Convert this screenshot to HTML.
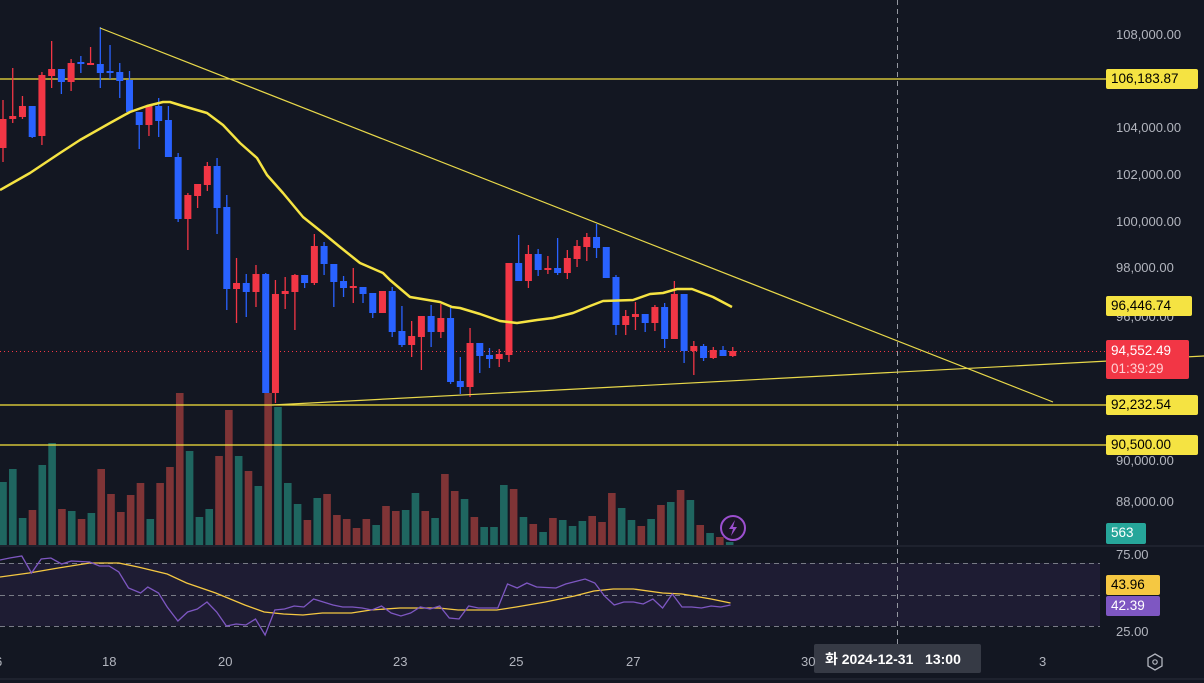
<!DOCTYPE html>
<html><head><meta charset="utf-8"><style>
html,body{margin:0;padding:0;background:#131722;width:1204px;height:683px;overflow:hidden;font-family:"Liberation Sans","Noto Sans CJK KR",sans-serif}
#c{position:absolute;left:0;top:0}
.l{position:absolute;color:#b2b5be;font-size:13px;line-height:16px}
.tag{position:absolute;left:1106px;height:20px;line-height:20px;font-size:13.5px;padding-left:5px;border-radius:2px;box-sizing:border-box}
</style></head><body>
<svg id="c" width="1204" height="683" xmlns="http://www.w3.org/2000/svg">
<rect width="1204" height="683" fill="#131722"/>
<rect x="0" y="563" width="1100" height="63" fill="#1e1c33"/>
<line x1="0" y1="546" x2="1204" y2="546" stroke="#2a2e39" stroke-width="1"/>
<line x1="0" y1="679" x2="1204" y2="679" stroke="#2a2e39" stroke-width="1"/>
<g stroke="#787b86" stroke-dasharray="5,4" stroke-width="1">
<line x1="0" y1="563.5" x2="1100" y2="563.5"/><line x1="0" y1="595.5" x2="1100" y2="595.5"/><line x1="0" y1="626.5" x2="1100" y2="626.5"/>
</g>
<line x1="897.5" y1="0" x2="897.5" y2="645" stroke="#9598a1" stroke-dasharray="5,4"/>
<g id="vol"></g>
<line x1="0" y1="79" x2="1106" y2="79" stroke="#f7e43c" stroke-width="1.3"/>
<line x1="0" y1="405" x2="1106" y2="405" stroke="#f7e43c" stroke-width="1.3"/>
<line x1="0" y1="445" x2="1106" y2="445" stroke="#f7e43c" stroke-width="1.3"/>
<line x1="0" y1="351.5" x2="1106" y2="351.5" stroke="#f23645" stroke-dasharray="1,3"/>
<g id="cand"></g>
<polyline fill="none" stroke="#e8d84a" stroke-width="1.2" points="100,28 1053,402"/>
<polyline fill="none" stroke="#e8d84a" stroke-width="1.2" points="272,405 1204,356"/>
<polyline id="ma" fill="none" stroke="#f5e342" stroke-width="2.5" stroke-linejoin="round"/>
<polyline id="rsima" fill="none" stroke="#f5c842" stroke-width="1.3"/>
<polyline id="rsi" fill="none" stroke="#7e57c2" stroke-width="1.3"/>
<circle cx="733" cy="528" r="12" fill="#1a1526" stroke="#9c4fd0" stroke-width="2"/>
<path d="M735 520 L729 529 L733 529 L731 536 L737 527 L733 527 Z" fill="#9c4fd0"/>
<rect x="814" y="644" width="167" height="29" rx="2" fill="#363a45"/>
<polygon points="1155,654 1162,658 1162,666 1155,670 1148,666 1148,658" fill="none" stroke="#b2b5be" stroke-width="1.3"/>
<circle cx="1155" cy="662" r="2.2" fill="none" stroke="#b2b5be" stroke-width="1.2"/>
</svg>

<div class="l" style="left:1116px;top:27px">108,000.00</div>
<div class="l" style="left:1116px;top:120px">104,000.00</div>
<div class="l" style="left:1116px;top:167px">102,000.00</div>
<div class="l" style="left:1116px;top:214px">100,000.00</div>
<div class="l" style="left:1116px;top:260px">98,000.00</div>
<div class="l" style="left:1116px;top:309px">96,000.00</div>
<div class="l" style="left:1116px;top:453px">90,000.00</div>
<div class="l" style="left:1116px;top:494px">88,000.00</div>
<div class="l" style="left:1116px;top:547px">75.00</div>
<div class="l" style="left:1116px;top:624px">25.00</div>

<div class="tag" style="top:69px;width:92px;background:#f5e342;color:#000">106,183.87</div>
<div class="tag" style="top:296px;width:86px;background:#f5e342;color:#000">96,446.74</div>
<div class="tag" style="top:340px;width:83px;height:39px;line-height:18px;padding-top:2px;background:#f23645;color:#fff">94,552.49<br><span style="color:#ffd0d4">01:39:29</span></div>
<div class="tag" style="top:395px;width:92px;background:#f5e342;color:#000">92,232.54</div>
<div class="tag" style="top:435px;width:92px;background:#f5e342;color:#000">90,500.00</div>
<div class="tag" style="top:523px;width:40px;height:21px;background:#26a69a;color:#fff">563</div>
<div class="tag" style="top:575px;width:54px;background:#f5c842;color:#000">43.96</div>
<div class="tag" style="top:596px;width:54px;background:#7e57c2;color:#fff">42.39</div>

<div class="l" style="left:-5px;top:654px">6</div>
<div class="l" style="left:102px;top:654px">18</div>
<div class="l" style="left:218px;top:654px">20</div>
<div class="l" style="left:393px;top:654px">23</div>
<div class="l" style="left:509px;top:654px">25</div>
<div class="l" style="left:626px;top:654px">27</div>
<div class="l" style="left:801px;top:654px">30</div>
<div class="l" style="left:1039px;top:654px">3</div>
<div class="l" style="left:825px;top:651px;color:#fff;font-size:14px;font-weight:bold">화 2024-12-31&nbsp;&nbsp;&nbsp;13:00</div>

<script>
var C=[
[119,148,100,162,'r'],[116,119,68,123,'r'],[106,117,96,119,'r'],[106,137,106,138,'b'],[75,136,72,145,'r'],
[69,76,41,88,'r'],[69,82,69,94,'b'],[63,82,59,91,'r'],[62,64,56,73,'b'],[63,65,47,65,'r'],
[64,73,27,88,'b'],[71,73,45,79,'b'],[72,81,63,98,'b'],[80,112,71,113,'b'],[112,125,112,149,'b'],
[106,125,106,136,'r'],[106,121,98,137,'b'],[120,157,106,157,'b'],[157,219,153,222,'b'],[195,219,193,250,'r'],
[184,196,184,208,'r'],[166,185,162,191,'r'],[166,208,158,234,'b'],[207,289,195,310,'b'],[283,289,258,323,'r'],
[283,292,274,317,'b'],[274,292,265,307,'r'],[274,393,273,393,'b'],[294,393,280,403,'r'],[291,294,277,309,'r'],
[275,292,274,330,'r'],[275,283,275,288,'b'],[246,283,234,285,'r'],[246,264,242,275,'b'],[264,282,264,307,'b'],
[281,288,276,297,'b'],[286,288,268,303,'r'],[287,294,287,303,'b'],[293,313,293,318,'b'],[291,313,291,313,'r'],
[291,332,287,337,'b'],[331,345,306,347,'b'],[336,345,321,357,'r'],[316,337,316,370,'r'],[316,332,305,347,'b'],
[318,332,304,338,'r'],[318,382,307,384,'b'],[381,387,357,394,'b'],[343,387,328,397,'r'],[343,356,343,373,'b'],
[355,359,348,368,'b'],[354,359,349,367,'r'],[263,355,263,362,'r'],[263,281,235,281,'b'],[254,281,245,288,'r'],
[254,270,249,276,'b'],[268,270,256,274,'r'],[268,273,238,275,'b'],[258,273,250,279,'r'],[246,259,240,267,'r'],
[237,247,233,261,'r'],[237,248,224,258,'b'],[247,278,247,278,'b'],[277,325,275,335,'b'],[316,325,310,335,'r'],
[314,317,302,330,'r'],[314,323,314,332,'b'],[307,323,305,331,'r'],[307,339,303,348,'b'],[294,339,281,339,'r'],
[294,351,294,363,'b'],[346,351,341,375,'r'],[346,358,344,361,'b'],[350,358,347,359,'r'],[350,356,346,356,'b'],
[351,356,347,357,'r']];
var s='';
C.forEach(function(c,i){var x=3+9.73*i;var col=c[4]=='r'?'#f23645':'#2962ff';
s+='<line x1="'+x+'" y1="'+c[2]+'" x2="'+x+'" y2="'+c[3]+'" stroke="'+col+'" stroke-width="1.3"/>';
var h=Math.max(c[1]-c[0],1.5);s+='<rect x="'+(x-3.5)+'" y="'+c[0]+'" width="7" height="'+h+'" fill="'+col+'"/>';});
document.getElementById('cand').innerHTML=s;
var V=[[482,'t'],[469,'t'],[518,'t'],[510,'r'],[465,'t'],[443,'t'],[509,'r'],[511,'t'],[519,'r'],[513,'t'],
[469,'r'],[494,'r'],[512,'r'],[495,'r'],[483,'r'],[519,'t'],[483,'r'],[467,'r'],[393,'r'],[451,'t'],
[517,'t'],[509,'t'],[456,'r'],[410,'r'],[456,'t'],[471,'r'],[486,'t'],[393,'r'],[407,'t'],[483,'t'],
[504,'t'],[520,'r'],[498,'t'],[494,'r'],[515,'r'],[519,'r'],[528,'r'],[519,'r'],[525,'t'],[506,'r'],
[511,'r'],[510,'t'],[493,'t'],[511,'r'],[518,'t'],[474,'r'],[491,'r'],[499,'t'],[517,'r'],[527,'t'],
[527,'t'],[485,'t'],[489,'r'],[517,'t'],[524,'r'],[532,'t'],[518,'r'],[520,'t'],[526,'t'],[521,'t'],
[516,'r'],[522,'r'],[493,'r'],[508,'t'],[520,'t'],[526,'r'],[519,'t'],[505,'r'],[502,'t'],[490,'r'],
[500,'t'],[525,'r'],[533,'t'],[537,'r'],[542,'t']];
s='';V.forEach(function(v,i){var x=3+9.82*i;s+='<rect x="'+(x-3.8)+'" y="'+v[0]+'" width="7.6" height="'+(545-v[0])+'" fill="'+(v[1]=='r'?'#7f3436':'#1f6660')+'"/>';});
document.getElementById('vol').innerHTML=s;
document.getElementById('ma').setAttribute('points','0,190 30,173 60,153 80,140 110,123 130,112 147,106 163,102 170,102 183,106 207,113 223,125 240,143 257,158 267,175 283,193 303,217 323,233 340,247 360,263 383,273 390,280 410,297 440,302 452,307 460,308 480,314 500,321 517,323 537,320 553,318 573,313 590,306 603,301 633,300 650,294 663,293 677,289 692,289 713,297 732,307');
var R=[[0,560],[20,558],[45,556],[65,573],[85,559],[105,558],[127,564],[147,561],[185,562],[205,566],[225,566],[245,572],[265,588],[290,593],[305,587],[327,593],[345,607],[367,621],[387,612],[407,609],[427,602],[447,612],[467,626],[487,624],[507,625],[527,619],[547,635],[567,610],[587,609],[607,606],[627,607],[647,599],[667,602],[687,605],[707,607],[727,607],[747,608],[767,610],[787,606],[807,613],[827,616],[847,613],[867,607],[887,609],[907,606],[927,618],[947,619],[967,606],[987,608],[1027,608],[1047,584],[1067,588],[1087,583],[1107,587],[1147,588],[1167,584],[1207,579],[1227,583],[1247,596],[1267,605],[1287,602],[1307,602],[1327,604],[1347,599],[1367,608],[1387,594],[1407,607],[1427,607],[1447,608],[1467,606],[1487,607],[1507,605]];
var Y=[[0,577],[60,573],[120,568],[185,563],[245,563],[285,567],[345,574],[385,583],[445,593],[505,605],[545,612],[585,614],[625,615],[665,613],[725,613],[765,610],[825,608],[905,608],[945,610],[1025,610],[1065,607],[1125,602],[1185,596],[1225,591],[1265,589],[1307,589],[1367,593],[1407,594],[1467,599],[1507,603]];
function p(a){return a.map(function(q){return (q[0]/2.063).toFixed(1)+','+q[1]}).join(' ');}
document.getElementById('rsi').setAttribute('points',p(R));
document.getElementById('rsima').setAttribute('points',p(Y));
</script>
</body></html>
